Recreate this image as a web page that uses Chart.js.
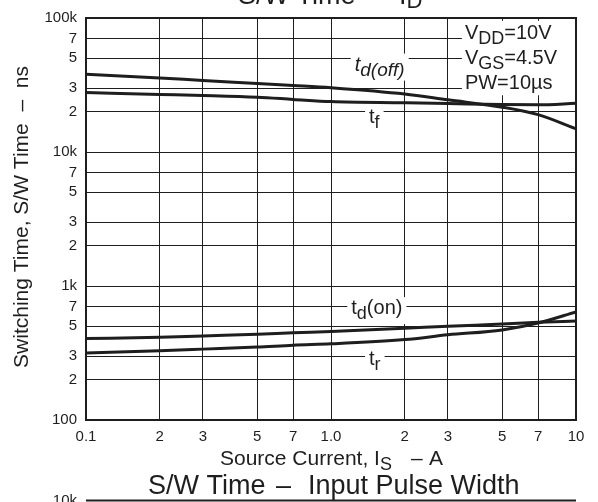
<!DOCTYPE html>
<html>
<head>
<meta charset="utf-8">
<script src="https://cdn.jsdelivr.net/npm/chart.js@4"></script>
<style>
  html, body { margin: 0; padding: 0; background: #fff; }
  #wrap { width: 598px; height: 502px; }
</style>
</head>
<body>
<div id="wrap"><canvas id="swChart" width="598" height="502"></canvas></div>
<script>
// source current I_S (A)
var current = [0.1, 0.2, 0.3, 0.5, 0.7, 1, 2, 3, 5, 7, 10];
// switching times (ns)
var tdOff = [38100, 35700, 34200, 32500, 31400, 30200, 27100, 24500, 21600, 19000, 14900];
var tf = [27800, 26900, 26400, 25600, 24700, 23800, 23300, 23000, 22600, 22500, 23100];
var tdOn = [405, 414, 424, 436, 447, 457, 483, 501, 520, 536, 547];
var tr = [316, 329, 338, 350, 362, 370, 398, 432, 470, 529, 641];

var xTicks = [0.1, 0.2, 0.3, 0.5, 0.7, 1, 2, 3, 5, 7, 10];
var xTickLabels = ["0.1", "2", "3", "5", "7", "1.0", "2", "3", "5", "7", "10"];
var yTicks = [100, 200, 300, 500, 700, 1000, 2000, 3000, 5000, 7000, 10000, 20000, 30000, 50000, 70000, 100000];
var yTickLabels = ["100", "2", "3", "5", "7", "1k", "2", "3", "5", "7", "10k", "2", "3", "5", "7", "100k"];

var FONT = '"Liberation Sans", Arial, sans-serif';
var INK = "#1e1e1e";

function toPoints(ys) {
  return current.map(function (x, i) {
    return { x: x, y: ys[i] };
  });
}

function f(size, style) {
  return (style ? style + " " : "") + size + "px " + FONT;
}

// draws text pieces one after another (for subscripts)
function drawParts(ctx, x, y, parts) {
  parts.forEach(function (p) {
    ctx.font = p.font;
    ctx.fillText(p.text, x, y + (p.dy || 0));
    x += ctx.measureText(p.text).width;
  });
  return x;
}

// curve labels, anchored in data units (current, ns)
var curveLabels = [
  { x: 1.25, y: 40500, parts: [{ text: "t", font: f(20, "italic") }, { text: "d(off)", font: f(19, "italic"), dy: 5 }] },
  { x: 1.43, y: 16500, parts: [{ text: "t", font: f(20) }, { text: "f", font: f(18), dy: 5 }] },
  { x: 1.21, y: 617, parts: [{ text: "t", font: f(20) }, { text: "d", font: f(18), dy: 5 }, { text: "(on)", font: f(20) }] },
  { x: 1.43, y: 259, parts: [{ text: "t", font: f(20) }, { text: "r", font: f(18), dy: 5 }] }
];

var conditions = [
  { y: 70000, parts: [{ text: "V", font: f(20) }, { text: "DD", font: f(18), dy: 5 }, { text: "=10V", font: f(20) }] },
  { y: 45700, parts: [{ text: "V", font: f(20) }, { text: "GS", font: f(18), dy: 5 }, { text: "=4.5V", font: f(20) }] },
  { y: 29400, parts: [{ text: "PW=10\u00b5s", font: f(20) }] }
];
var conditionsX = 3.52;

var notes = {
  id: "notes",
  beforeDatasetsDraw: function (chart) {
    var ctx = chart.ctx;
    var xs = chart.scales.x;
    var ys = chart.scales.y;
    var area = chart.chartArea;
    ctx.save();
    ctx.textBaseline = "alphabetic";
    ctx.textAlign = "left";

    curveLabels.forEach(function (l) {
      var px = xs.getPixelForValue(l.x);
      var py = ys.getPixelForValue(l.y);
      var w = 0;
      l.parts.forEach(function (p) {
        ctx.font = p.font;
        w += ctx.measureText(p.text).width;
      });
      ctx.fillStyle = "#fff";
      ctx.fillRect(px - 4, py - 17, w + 8, 27);
      ctx.fillStyle = INK;
      drawParts(ctx, px, py, l.parts);
    });

    // conditions block, top right
    var cx = xs.getPixelForValue(conditionsX);
    var top = ys.getPixelForValue(conditions[0].y) - 18;
    var bot = ys.getPixelForValue(conditions[2].y) + 6;
    ctx.fillStyle = "#fff";
    ctx.fillRect(cx - 3, top, area.right - cx + 2, bot - top);
    ctx.fillStyle = INK;
    conditions.forEach(function (c) {
      drawParts(ctx, cx, ys.getPixelForValue(c.y), c.parts);
    });
    ctx.restore();
  },
  afterDraw: function (chart) {
    var ctx = chart.ctx;
    var area = chart.chartArea;
    ctx.save();
    // frame
    ctx.strokeStyle = INK;
    ctx.lineWidth = 2;
    ctx.strokeRect(area.left, area.top, area.right - area.left, area.bottom - area.top);

    ctx.fillStyle = INK;
    ctx.textBaseline = "alphabetic";
    ctx.textAlign = "left";

    // chart title (cut at the top edge)
    ctx.font = f(27);
    ctx.fillText("S/W Time", 238, 4);
    ctx.fillText("\u2013", 368, 4);
    drawParts(ctx, 399, 4, [{ text: "I", font: f(27) }, { text: "D", font: f(22), dy: 4 }]);

    // x axis title
    drawParts(ctx, 220, 465, [{ text: "Source Current, I", font: f(21) }, { text: "S", font: f(18), dy: 5 }]);
    ctx.font = f(21);
    ctx.fillText("\u2013", 411, 465);
    ctx.fillText("A", 429, 465);

    // y axis title
    ctx.save();
    ctx.translate(28, 217);
    ctx.rotate(-Math.PI / 2);
    ctx.textAlign = "center";
    ctx.font = f(21);
    ctx.fillText("Switching Time, S/W Time  \u2013  ns", 0, 0);
    ctx.restore();

    // next chart's title and top edge
    ctx.font = f(27);
    ctx.fillText("S/W Time", 148, 494);
    ctx.fillText("\u2013", 276, 494);
    ctx.fillText("Input Pulse Width", 308, 494);
    ctx.beginPath();
    ctx.moveTo(area.left, 500.5);
    ctx.lineTo(area.right, 500.5);
    ctx.lineWidth = 2;
    ctx.stroke();
    ctx.font = f(15);
    ctx.textAlign = "right";
    ctx.textBaseline = "middle";
    ctx.fillText("10k", 77, 501);
    ctx.restore();
  }
};

function lineSet(label, ys) {
  return {
    label: label,
    data: toPoints(ys),
    borderColor: INK,
    borderWidth: 3,
    pointRadius: 0,
    fill: false,
    cubicInterpolationMode: "monotone"
  };
}

var ctx = document.getElementById("swChart").getContext("2d");
var chart = new Chart(ctx, {
  type: "line",
  data: {
    datasets: [
      lineSet("td(off)", tdOff),
      lineSet("tf", tf),
      lineSet("td(on)", tdOn),
      lineSet("tr", tr)
    ]
  },
  options: {
    responsive: false,
    animation: false,
    devicePixelRatio: 1,
    layout: { padding: { top: 14, right: 22, left: 0, bottom: 0 } },
    plugins: {
      legend: { display: false },
      tooltip: { enabled: false }
    },
    scales: {
      x: {
        type: "logarithmic",
        min: 0.1,
        max: 10,
        afterBuildTicks: function (scale) {
          scale.ticks = xTicks.map(function (v) { return { value: v }; });
        },
        afterFit: function (scale) { scale.height = 82; },
        grid: { color: INK, lineWidth: 1, drawTicks: false },
        border: { display: false },
        ticks: {
          autoSkip: false,
          maxRotation: 0,
          padding: 8,
          color: INK,
          font: { family: FONT, size: 15 },
          callback: function (value, index) { return xTickLabels[index]; }
        }
      },
      y: {
        type: "logarithmic",
        min: 100,
        max: 100000,
        afterBuildTicks: function (scale) {
          scale.ticks = yTicks.map(function (v) { return { value: v }; });
        },
        afterFit: function (scale) { scale.width = 86; },
        grid: { color: INK, lineWidth: 1, drawTicks: false },
        border: { display: false },
        ticks: {
          autoSkip: false,
          padding: 9,
          color: INK,
          font: { family: FONT, size: 15 },
          callback: function (value, index) { return yTickLabels[index]; }
        }
      }
    }
  },
  plugins: [notes]
});
</script>
</body>
</html>
